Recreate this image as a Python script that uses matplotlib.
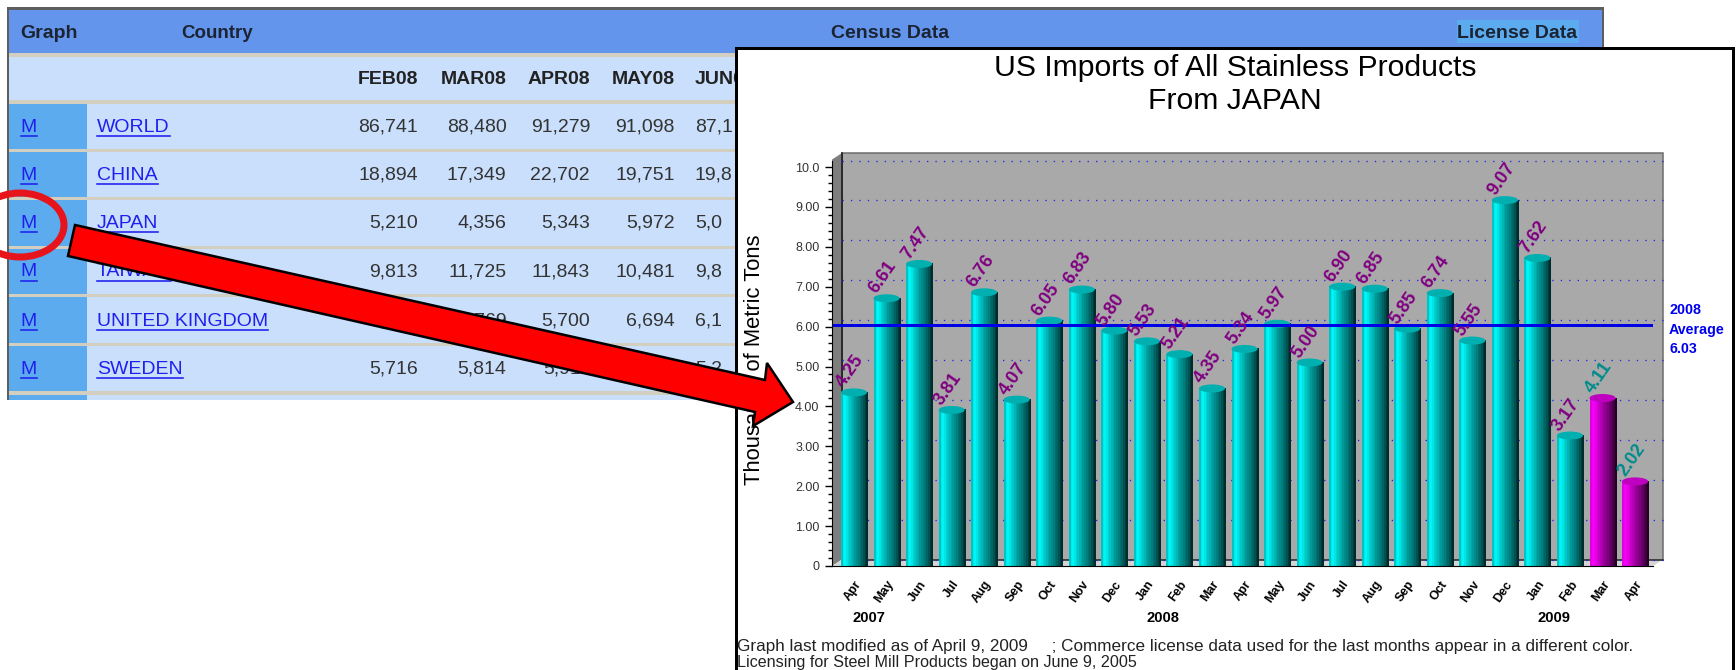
import matplotlib
matplotlib.use('Agg')
import matplotlib.pyplot as plt
import numpy as np
from matplotlib.colors import LinearSegmentedColormap
from matplotlib.patches import Ellipse, Polygon, Rectangle

plt.rcParams['font.family'] = ['Liberation Sans', 'DejaVu Sans']

# bar chart data
months = ['Apr', 'May', 'Jun', 'Jul', 'Aug', 'Sep', 'Oct', 'Nov', 'Dec', 'Jan', 'Feb', 'Mar', 'Apr',
          'May', 'Jun', 'Jul', 'Aug', 'Sep', 'Oct', 'Nov', 'Dec', 'Jan', 'Feb', 'Mar', 'Apr']
values = [4.25, 6.61, 7.47, 3.81, 6.76, 4.07, 6.05, 6.83, 5.80, 5.53, 5.21, 4.35, 5.34,
          5.97, 5.00, 6.90, 6.85, 5.85, 6.74, 5.55, 9.07, 7.62, 3.17, 4.11, 2.02]
n_census = 23          # the last two months are license data
average = 6.03
years = ['2007', '2008', '2009']
year_pos = [0.46, 9.5, 21.5]
ytick_vals = [0, 1, 2, 3, 4, 5, 6, 7, 8, 9, 10]
ytick_labels = ['0', '1.00', '2.00', '3.00', '4.00', '5.00', '6.00', '7.00', '8.00', '9.00', '10.0']

# table behind the chart
col_heads = ['FEB08', 'MAR08', 'APR08', 'MAY08']
countries = ['WORLD', 'CHINA', 'JAPAN', 'TAIWAN', 'UNITED KINGDOM', 'SWEDEN']
feb = ['86,741', '18,894', '5,210', '9,813', '6,208', '5,716']
mar = ['88,480', '17,349', '4,356', '11,725', '5,769', '5,814']
apr = ['91,279', '22,702', '5,343', '11,843', '5,700', '5,911']
may = ['91,098', '19,751', '5,972', '10,481', '6,694', '5,500']
jun = ['87,1', '19,8', '5,0', '9,8', '6,1', '5,2']

W, H = 1736, 670
fig = plt.figure(figsize=(W / 100, H / 100), dpi=100, facecolor='white')
px = 72 / 100          # one pixel in points

# ---- background layer in pixels: table + white panel
bg = fig.add_axes([0, 0, 1, 1], zorder=0)
bg.set_xlim(0, W)
bg.set_ylim(H, 0)
bg.axis('off')

def rect(a, x0, y0, x1, y1, color, **kw):
    a.add_patch(Rectangle((x0, y0), x1 - x0, y1 - y0, facecolor=color, edgecolor='none', **kw))

def link(x, y, s, fs=14):
    t = bg.text(x, y, s, color='#2020EE', fontsize=fs, ha='left', va='center')
    bb = t.get_window_extent(fig.canvas.get_renderer())
    bg.plot([bb.x0, bb.x1], [y + 9, y + 9], color='#2020EE', lw=1.6 * px)

rect(bg, 7, 7, 1604, 400, '#5E5E5E')
rect(bg, 9, 10, 1602, 53, '#6495ED')
rect(bg, 9, 53, 1602, 400, '#D2CFC0')
rect(bg, 9, 57, 1602, 100, '#C9DFFC')
row_tops = [104, 152, 200, 249, 297, 346]
row_bots = [149, 197, 246, 294, 343, 391]
for y0, y1 in zip(row_tops, row_bots):
    rect(bg, 9, y0, 87, y1, '#5BABEE')
    rect(bg, 87, y0, 1602, y1, '#C9DFFC')
rect(bg, 9, 395, 87, 400, '#5BABEE')
rect(bg, 87, 395, 1602, 400, '#C9DFFC')
rect(bg, 1457, 20, 1579, 43, '#5BABEE')

head_col = '#1C2433'
bg.text(20, 33.5, 'Graph', fontsize=14, fontweight='bold', color=head_col, va='center')
bg.text(181, 33.5, 'Country', fontsize=13.5, fontweight='bold', color=head_col, va='center')
bg.text(831, 33.5, 'Census Data', fontsize=14, fontweight='bold', color=head_col, va='center')
bg.text(1457, 33.5, 'License Data', fontsize=14, fontweight='bold', color=head_col, va='center')

col_right = [418, 506.5, 590, 675]
for x, s in zip(col_right, col_heads):
    bg.text(x, 80, s, fontsize=14, fontweight='bold', color='#222222', ha='right', va='center')
bg.text(695, 80, 'JUN08', fontsize=14, fontweight='bold', color='#222222', ha='left', va='center')

row_y = [127, 175, 223, 272, 321, 369]
for i, y in enumerate(row_y):
    link(20.5, y, 'M')
    link(97, y, countries[i])
    for x, col in zip(col_right, [feb, mar, apr, may]):
        bg.text(x, y, col[i], fontsize=14, color='#333333', ha='right', va='center')
    bg.text(695, y, jun[i], fontsize=14, color='#333333', ha='left', va='center')

# chart panel covers the table
bg.add_patch(Rectangle((735.5, 47.5), 997, 640, facecolor='white', edgecolor='black', lw=3 * px, zorder=5))
bg.text(1235, 68, 'US Imports of All Stainless Products', fontsize=21.7, color='black',
        ha='center', va='center', zorder=6)
bg.text(1235, 101, 'From JAPAN', fontsize=21.7, color='black', ha='center', va='center', zorder=6)
bg.text(755, 360, 'Thousands of Metric Tons', fontsize=15.8, rotation=90, color='black',
        ha='center', va='center', zorder=6)
bg.text(737, 647, 'Graph last modified as of April 9, 2009     ; Commerce license data used for the last '
        'months appear in a different color.', fontsize=12.3, color='#222222', va='center', zorder=6)
bg.text(737, 663, 'Licensing for Steel Mill Products began on June 9, 2005', fontsize=11.6,
        color='#222222', va='center', zorder=6)
for s, y in zip(['2008', 'Average', '6.03'], [310, 330, 349]):
    bg.text(1669, y, s, fontsize=10.3, fontweight='bold', color='#0000F0', va='center', zorder=6)

# ---- the bar chart itself
ax = fig.add_axes([832 / W, (H - 566) / H, 821 / W, 413 / H], zorder=1)
ax.patch.set_visible(False)
x0, x1 = -0.676, 24.55
y_top = 10.351
dx, dy = 10 / 32.54, 6.5 / 39.9     # depth of the fake 3d box

ax.add_patch(Polygon([(x0 + dx, dy), (x1 + dx, dy), (x1 + dx, y_top), (x0 + dx, y_top)], closed=True,
                     facecolor='#A9A9A9', edgecolor='#6A6A6A', lw=1.5 * px, clip_on=False, zorder=1))
ax.add_patch(Polygon([(x0, 0), (x0 + dx, dy), (x0 + dx, y_top), (x0, y_top - dy)], closed=True,
                     facecolor='#7E7E7E', edgecolor='none', clip_on=False, zorder=1))
ax.add_patch(Polygon([(x0, 0), (x1, 0), (x1 + dx, dy), (x0 + dx, dy)], closed=True,
                     facecolor='#D4D4D4', edgecolor='none', clip_on=False, zorder=1))
ax.plot([x0 + dx, x1 + dx], [dy, dy], color='#222222', lw=1.5 * px, zorder=1.5, clip_on=False)
ax.plot([x0 + dx, x0 + dx], [dy, y_top], color='#111111', lw=1.5 * px, zorder=1.5, clip_on=False)

for v in ytick_vals:
    ax.plot([x0 + dx, x1 + dx], [v + dy, v + dy], color='#2020F0', lw=1.3 * px,
            ls=(0, (1, 5.5)), zorder=2, clip_on=False)

cyan_map = LinearSegmentedColormap.from_list('c', [(0, '#00C4C4'), (0.1, '#00FFFF'), (0.22, '#00E0E0'),
                                                   (0.5, '#00A0A0'), (0.8, '#006464'), (1, '#002C2C')])
magenta_map = LinearSegmentedColormap.from_list('m', [(0, '#E000E0'), (0.1, '#FF00FF'), (0.22, '#E000E0'),
                                                      (0.5, '#A000A0'), (0.8, '#600060'), (1, '#240024')])
bar_w = 0.8
cap_h = 8 / 39.9
for i, v in enumerate(values):
    census = i < n_census
    # front edge of the top cap sits on the value
    ax.imshow(np.linspace(0, 1, 16)[None, :], cmap=cyan_map if census else magenta_map,
              extent=(i - bar_w / 2, i + bar_w / 2, 0, v + cap_h / 2), aspect='auto', zorder=3,
              interpolation='nearest', clip_on=False)
    ax.add_patch(Ellipse((i, v + cap_h / 2), bar_w, cap_h, facecolor='#00B0B0' if census else '#C000C0',
                         edgecolor='none', zorder=3.2, clip_on=False))

ax.plot([x0, x1], [average, average], color='#0000E8', lw=3 * px, zorder=4, solid_capstyle='butt')

for i, v in enumerate(values):
    ax.annotate('%.2f' % v, xy=(i, v), xytext=(-10, 8), textcoords='offset pixels', rotation=55,
                rotation_mode='anchor', ha='left', va='baseline', fontsize=13, fontweight='bold',
                color='#800080' if i < n_census else '#008B8B', zorder=5, annotation_clip=False)

ax.set_xlim(x0, x1)
ax.set_ylim(0, y_top)
ax.set_yticks(ytick_vals)
ax.set_yticklabels(ytick_labels, fontsize=9, color='#333333')
ax.set_yticks(np.arange(0, 10.01, 0.2), minor=True)
ax.tick_params(axis='y', which='major', length=5, width=1, pad=4, color='black')
ax.tick_params(axis='y', which='minor', length=3, width=1, color='black')
ax.set_xticks(range(len(months)))
ax.set_xticklabels(months, fontsize=9, fontweight='bold', rotation=55, ha='right', rotation_mode='anchor')
ax.tick_params(axis='x', length=0, pad=9)
for s in ['top', 'right']:
    ax.spines[s].set_visible(False)
ax.spines['left'].set_bounds(0, 10 + dy)
ax.spines['left'].set_zorder(6)
ax.spines['bottom'].set_zorder(6)

for s, x in zip(years, year_pos):
    ax.annotate(s, xy=(x, 0), xytext=(0, -52), textcoords='offset pixels', ha='center', va='center',
                fontsize=10.6, fontweight='bold', color='black', annotation_clip=False)

# ---- arrow and circle on top of everything
top = fig.add_axes([0, 0, 1, 1], zorder=2)
top.set_xlim(0, W)
top.set_ylim(H, 0)
top.axis('off')
arrow_xy = [(75, 225), (765, 380), (767, 363), (793, 402), (753, 426), (755, 412), (68, 256)]
top.add_patch(Polygon(arrow_xy, closed=True, facecolor='#FF0000', edgecolor='black', lw=2.5 * px,
                      joinstyle='miter'))
top.add_patch(Ellipse((20, 225), 88, 64, facecolor='none', edgecolor='#E8141C', lw=7 * px))

fig.savefig('out.png', dpi=100)
